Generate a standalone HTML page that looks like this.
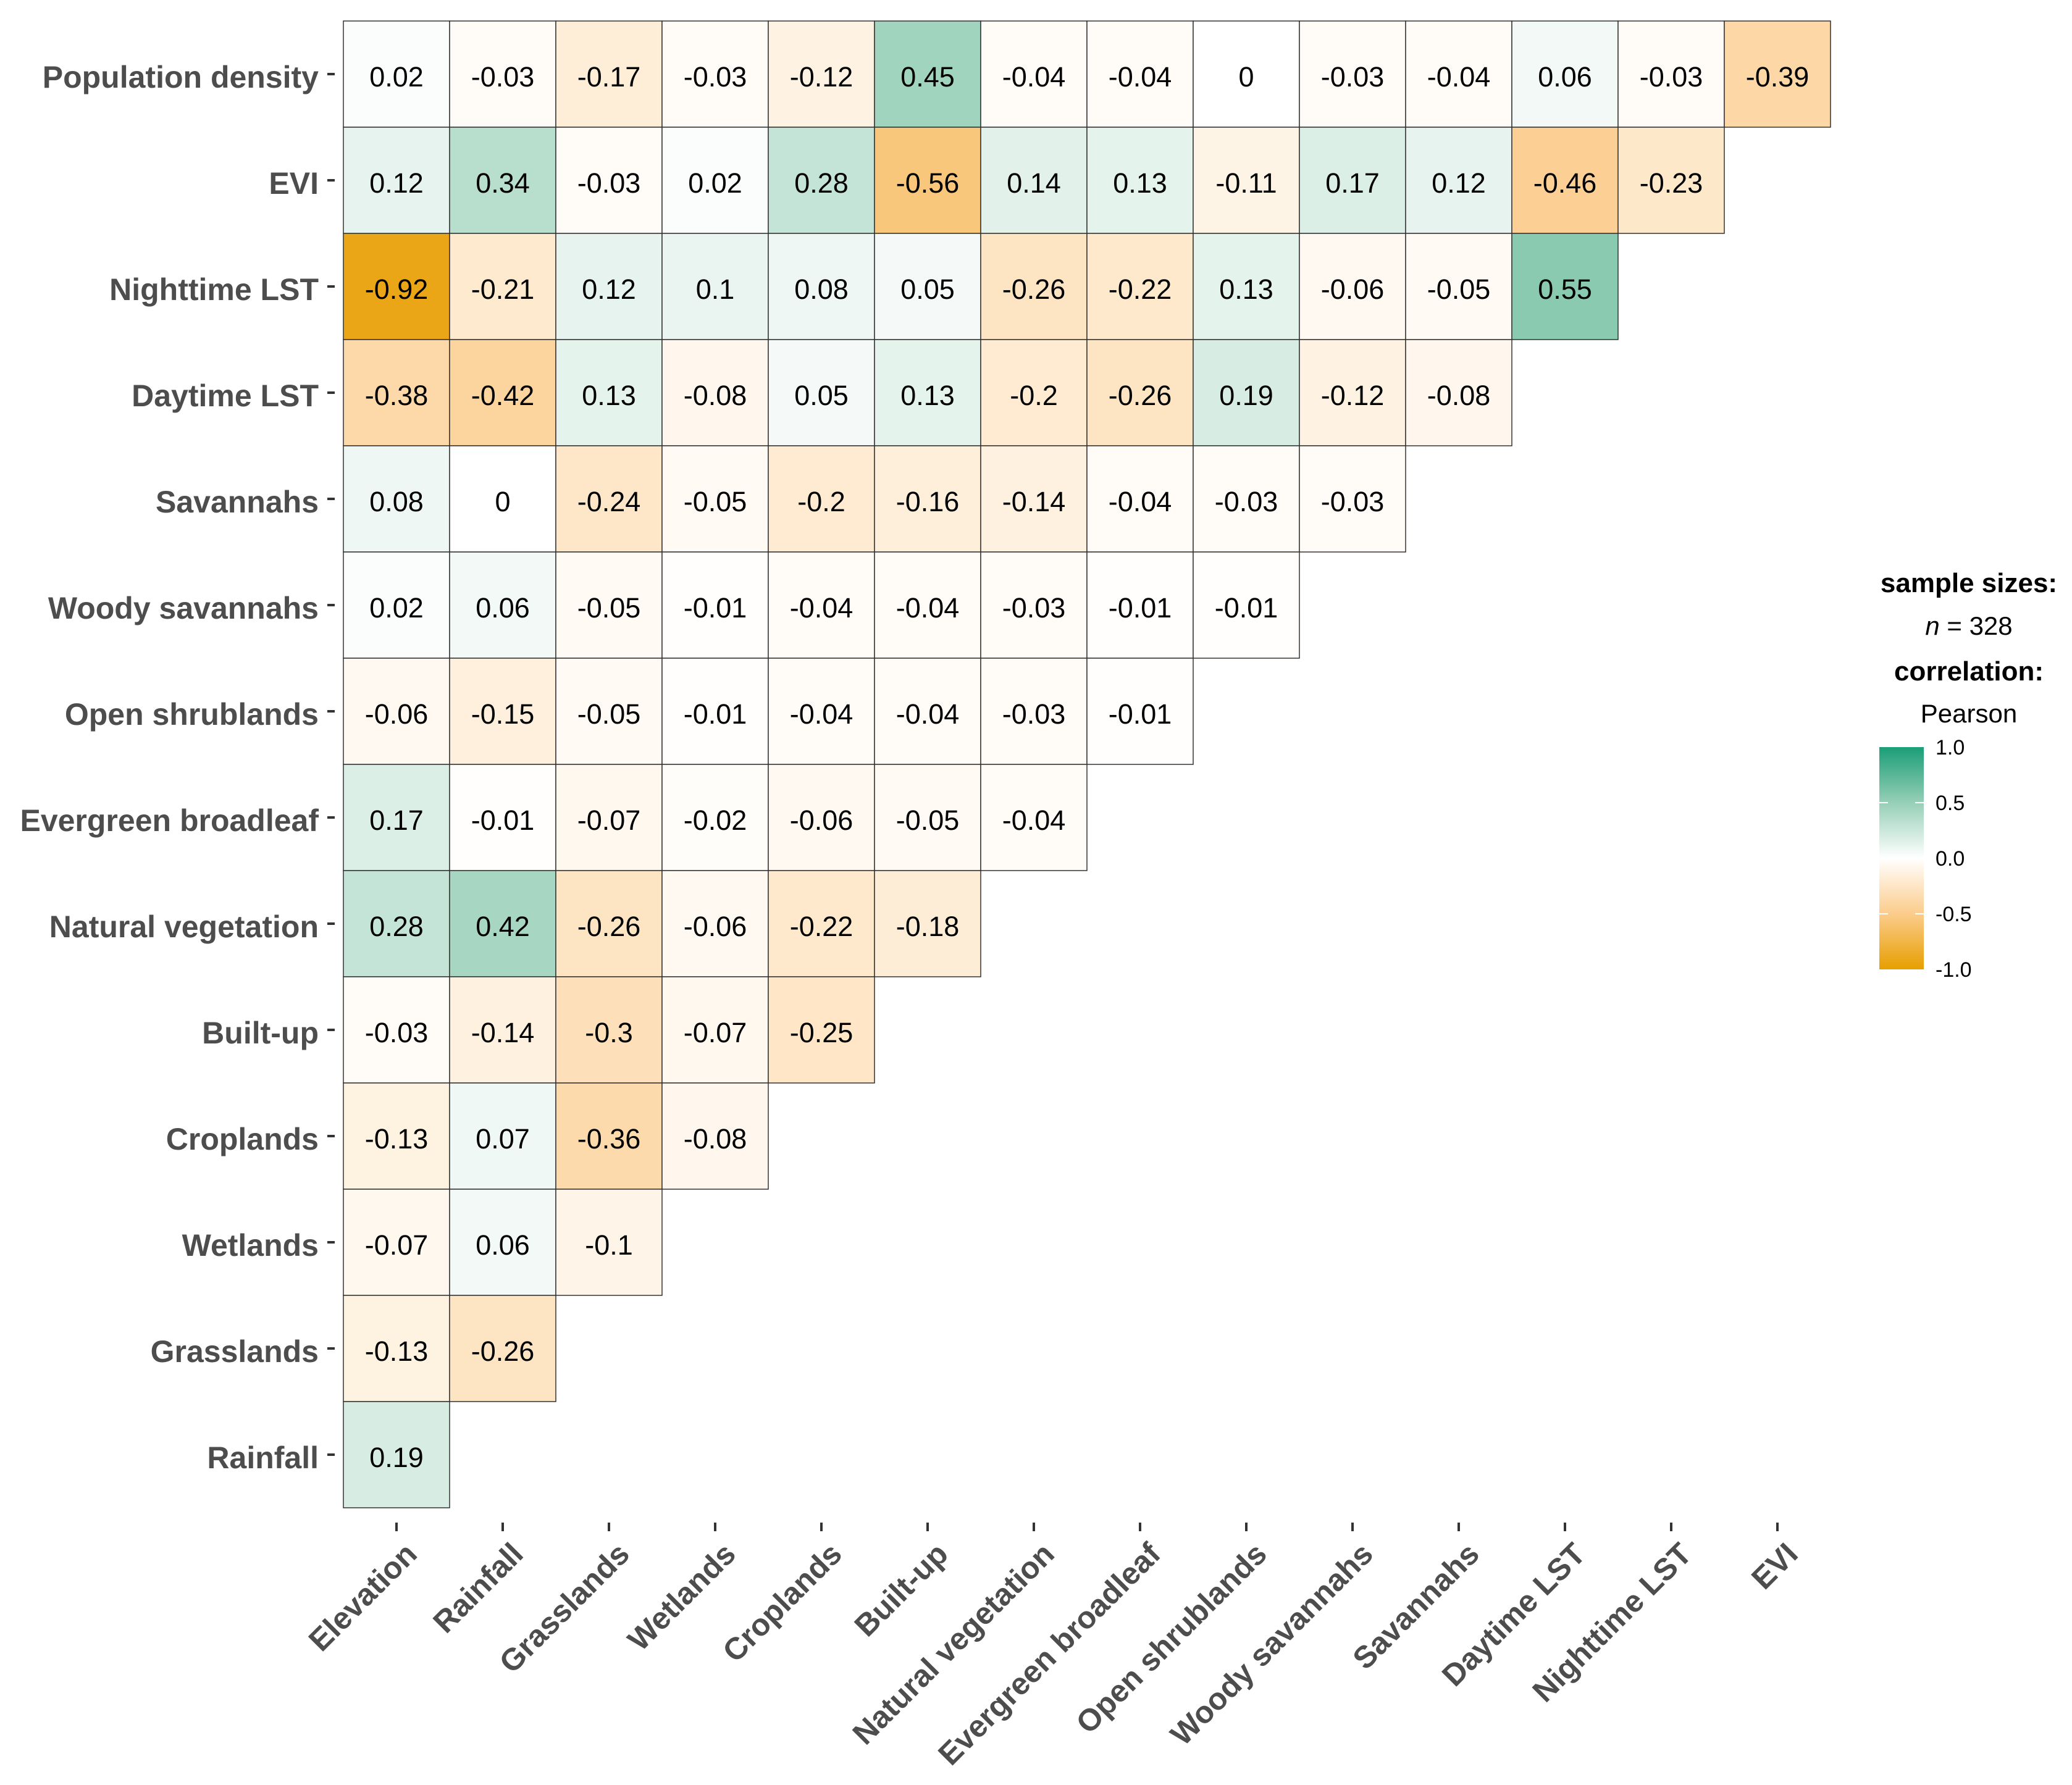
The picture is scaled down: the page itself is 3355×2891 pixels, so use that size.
<!DOCTYPE html>
<html><head><meta charset="utf-8"><style>
html,body{margin:0;padding:0;background:#fff;}
svg{display:block;font-family:"Liberation Sans",Arial,sans-serif;}
</style></head><body>
<svg id="chart" width="3355" height="2891" viewBox="0 0 3355 2891" xmlns="http://www.w3.org/2000/svg">
<g id="cells"></g>
<g id="ylabels"></g>
<g id="xlabels"></g>
<g id="legend">
  <text x="3188" y="959" text-anchor="middle" font-size="44" font-weight="bold" fill="#000">sample sizes:</text>
  <text x="3188" y="1028" text-anchor="middle" font-size="42" fill="#000"><tspan font-style="italic">n</tspan> = 328</text>
  <text x="3188" y="1102" text-anchor="middle" font-size="44" font-weight="bold" fill="#000">correlation:</text>
  <text x="3188" y="1170" text-anchor="middle" font-size="42" fill="#000">Pearson</text>
  <defs><linearGradient id="cg" x1="0" y1="0" x2="0" y2="1">
    <stop offset="0" stop-color="#1b9e77"/><stop offset="0.25" stop-color="rgb(150,207,183)"/><stop offset="0.5" stop-color="#ffffff"/><stop offset="0.75" stop-color="rgb(252,204,140)"/><stop offset="1" stop-color="#e69f00"/>
  </linearGradient></defs>
  <rect x="3043" y="1210" width="72" height="360" fill="url(#cg)"/>
  <g id="cbticks"></g>
</g>
<script>
const rowLabels = ["Population density","EVI","Nighttime LST","Daytime LST","Savannahs","Woody savannahs","Open shrublands","Evergreen broadleaf","Natural vegetation","Built-up","Croplands","Wetlands","Grasslands","Rainfall"];
const colLabels = ["Elevation","Rainfall","Grasslands","Wetlands","Croplands","Built-up","Natural vegetation","Evergreen broadleaf","Open shrublands","Woody savannahs","Savannahs","Daytime LST","Nighttime LST","EVI"];
const rowPopulation = [0.02,-0.03,-0.17,-0.03,-0.12,0.45,-0.04,-0.04,0,-0.03,-0.04,0.06,-0.03,-0.39];
const rowEVI = [0.12,0.34,-0.03,0.02,0.28,-0.56,0.14,0.13,-0.11,0.17,0.12,-0.46,-0.23];
const rowNight = [-0.92,-0.21,0.12,0.1,0.08,0.05,-0.26,-0.22,0.13,-0.06,-0.05,0.55];
const rowDay = [-0.38,-0.42,0.13,-0.08,0.05,0.13,-0.2,-0.26,0.19,-0.12,-0.08];
const rowSav = [0.08,0,-0.24,-0.05,-0.2,-0.16,-0.14,-0.04,-0.03,-0.03];
const rowWoody = [0.02,0.06,-0.05,-0.01,-0.04,-0.04,-0.03,-0.01,-0.01];
const rowOpen = [-0.06,-0.15,-0.05,-0.01,-0.04,-0.04,-0.03,-0.01];
const rowEvergreen = [0.17,-0.01,-0.07,-0.02,-0.06,-0.05,-0.04];
const rowNatural = [0.28,0.42,-0.26,-0.06,-0.22,-0.18];
const rowBuilt = [-0.03,-0.14,-0.3,-0.07,-0.25];
const rowCrop = [-0.13,0.07,-0.36,-0.08];
const rowWet = [-0.07,0.06,-0.1];
const rowGrass = [-0.13,-0.26];
const rowRain = [0.19];
const rows = [rowPopulation,rowEVI,rowNight,rowDay,rowSav,rowWoody,rowOpen,rowEvergreen,rowNatural,rowBuilt,rowCrop,rowWet,rowGrass,rowRain];
const legendTicks = [1.0,0.5,0.0,-0.5,-1.0];

const NS="http://www.w3.org/2000/svg";
const X0=556, Y0=34, CW=172, CH=172;
const xPos = i => X0 + i*CW;
const yPos = j => Y0 + j*CH;
function lerp(a,b,t){return a.map((k,i)=>Math.round(k+(b[i]-k)*t));}
function color(v){
  const W=[255,255,255];
  const pm=[150,207,183], pe=[27,158,119], nm=[252,204,140], ne=[230,159,0];
  const a=Math.min(1,Math.abs(v)), m=v>=0?pm:nm, e=v>=0?pe:ne;
  const c = a<=0.5 ? lerp(W,m,a/0.5) : lerp(m,e,(a-0.5)/0.5);
  return "rgb("+c.join(",")+")";
}
function mk(tag,attrs,parent,txt){
  const e=document.createElementNS(NS,tag);
  for(const k in attrs) e.setAttribute(k,attrs[k]);
  if(txt!==undefined) e.textContent=txt;
  parent.appendChild(e); return e;
}
const gc=document.getElementById("cells");
rows.forEach((vals,j)=>{
  vals.forEach((v,i)=>{
    const r=mk("rect",{x:xPos(i),y:yPos(j),width:CW,height:CH,fill:color(v),stroke:"#333",'stroke-width':1.5},gc);
    
    
    const t=mk("text",{x:xPos(i)+CW/2,y:yPos(j)+CH/2+20,'text-anchor':'middle','font-size':45,fill:'#000'},gc,String(v));
    
    
  });
});
const gy=document.getElementById("ylabels");
rowLabels.forEach((l,j)=>{
  const cy=yPos(j)+CH/2;
  const t=mk("text",{x:516,y:cy+22,'text-anchor':'end','font-size':50,'font-weight':'bold',fill:'#4d4d4d'},gy,l);
  
  
  const k=mk("line",{x1:530,x2:542,y1:cy,y2:cy,stroke:'#333','stroke-width':4},gy);
  
  
});
const gx=document.getElementById("xlabels");
colLabels.forEach((l,i)=>{
  const cx=xPos(i)+CW/2;
  const k=mk("line",{x1:cx,x2:cx,y1:2466,y2:2480,stroke:'#333','stroke-width':4},gx);
  
  
  const ax=cx+36, ay=2520;
  const t=mk("text",{x:ax,y:ay,'text-anchor':'end','font-size':50,'font-weight':'bold',fill:'#4d4d4d',transform:"rotate(-45 "+ax+" "+ay+")"},gx,l);
  
  
});
const gt=document.getElementById("cbticks");
legendTicks.forEach(v=>{
  const y=1210+(1-v)/2*360;
  if(Math.abs(v)<1){
    mk("line",{x1:3043,x2:3057,y1:y,y2:y,stroke:'#fff','stroke-width':2},gt);
    mk("line",{x1:3101,x2:3115,y1:y,y2:y,stroke:'#fff','stroke-width':2},gt);
  }
  const t=mk("text",{x:3134,y:y+12,'font-size':34,fill:'#000'},gt,v.toFixed(1));
  
  
});
</script>
</svg>
</body></html>
